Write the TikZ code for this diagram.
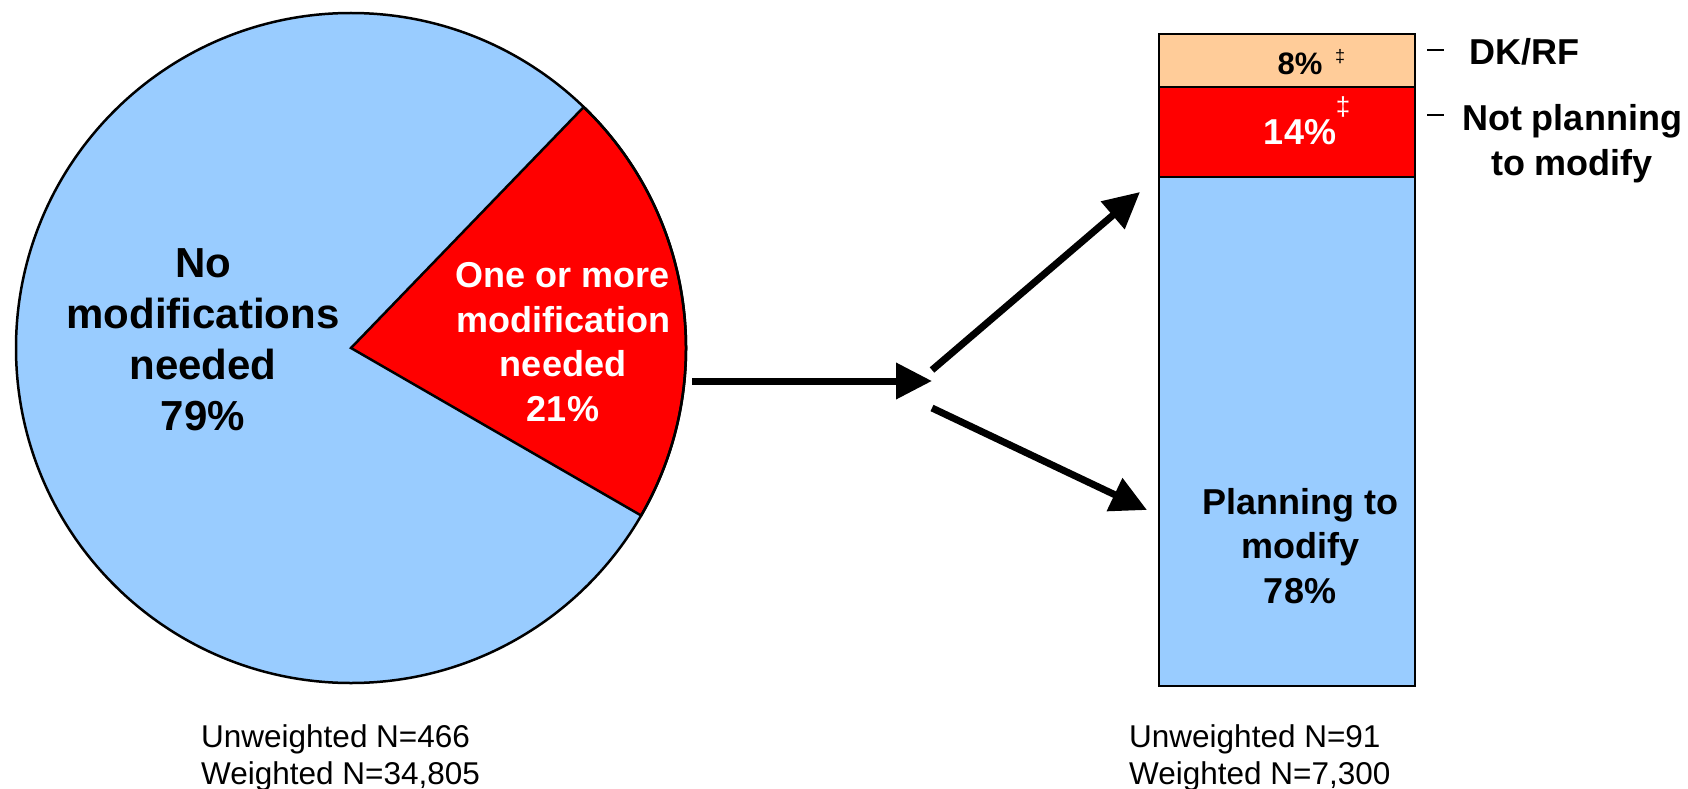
\documentclass[tikz,border=0pt]{standalone}
\usepackage{fontspec}
\setmainfont{Liberation Sans}
\usetikzlibrary{arrows.meta}
\definecolor{pieblue}{HTML}{99CCFF}
\definecolor{piered}{HTML}{FF0000}
\definecolor{peach}{HTML}{FFCC99}
\begin{document}
\begin{tikzpicture}[x=1pt,y=-1pt,
  bigtxt/.style={font=\bfseries\fontsize{42}{51}\selectfont, align=center, inner sep=0pt},
  midtxt/.style={font=\bfseries\fontsize{36}{45}\selectfont, align=center, inner sep=0pt},
  smalltxt/.style={font=\fontsize{31.5}{37}\selectfont, align=left, inner sep=0pt},
  seg/.style={draw, line width=2.5pt, minimum width=256pt, inner sep=0pt, outer sep=0pt, anchor=north west},
  arr/.style={line width=7pt, -{Triangle[length=36pt,width=35pt]}},
  ddag/.style={inner sep=0pt}]
\useasboundingbox (0,0) rectangle (1688,789);
% pie
\coordinate (pc) at (351,348);
\fill[pieblue] (pc) circle[radius=335];
\filldraw[fill=piered, draw=black, line width=2.5pt] (pc) -- ++(-46:335) arc[start angle=-46, end angle=30, radius=335] -- cycle;
\draw[line width=2.5pt] (pc) circle[radius=335];
\node[bigtxt] (nomod) at (203,340) {No\\modifications\\needed\\79\%};
\node[midtxt, font=\bfseries\fontsize{36}{44.5}\selectfont, text=white] (onemod) at (563,342) {One or more\\modification\\needed\\21\%};
% bar
\node[seg, fill=peach, minimum height=53pt] (dk) at (1159,34) {};
\node[seg, fill=piered, minimum height=90pt] (np) at (1159,87) {};
\node[seg, fill=pieblue, minimum height=509pt] (pl) at (1159,177) {};
\node[midtxt, font=\bfseries\fontsize{31}{31}\selectfont, anchor=base] (dkpct) at (1300,75) {8\%};
\node[ddag, font=\fontsize{18}{18}\selectfont] (dd1) at (1340,57) {‡};
\node[midtxt, anchor=base, text=white] (nppct) at (1300,144) {14\%};
\node[ddag, font=\fontsize{26}{26}\selectfont] (dd2) at (1343,107) {\textcolor{white}{‡}};
\node[midtxt, font=\bfseries\fontsize{36}{44.5}\selectfont] (pltxt) at (1300,546) {Planning to\\modify\\78\%};
% legend
\coordinate (m1a) at (1427,50); \coordinate (m1b) at (1444,50);
\coordinate (m2a) at (1427,115); \coordinate (m2b) at (1444,115);
\draw[line width=1.5pt] (m1a) -- (m1b);
\draw[line width=1.5pt] (m2a) -- (m2b);
\node[midtxt, anchor=base] (dklab) at (1524,65) {DK/RF};
\node[midtxt] (nplab) at (1572,143.5) {Not planning\\to modify};
% arrows
\coordinate (a0) at (692,381); \coordinate (a1) at (932,381);
\coordinate (u0) at (932,370); \coordinate (u1) at (1140,192);
\coordinate (l0) at (932,408); \coordinate (l1) at (1147,510);
\draw[arr] (a0) -- (a1);
\draw[arr] (u0) -- (u1);
\draw[arr] (l0) -- (l1);
% sample sizes
\node[smalltxt, anchor=north west] (nleft) at (201,724) {Unweighted N=466\\Weighted N=34,805};
\node[smalltxt, anchor=north west] (nright) at (1129,724) {Unweighted N=91\\Weighted N=7,300};
\end{tikzpicture}
\end{document}
